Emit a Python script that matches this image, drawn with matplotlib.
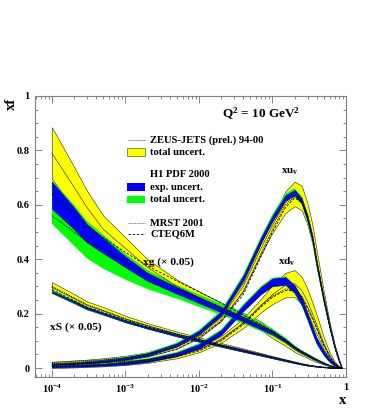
import numpy as np
import matplotlib
matplotlib.use("Agg")
import matplotlib.pyplot as plt
from matplotlib.patches import Rectangle
from matplotlib.ticker import FixedLocator, FixedFormatter, LogLocator, NullFormatter, MultipleLocator

plt.rcParams["font.family"] = ["Liberation Serif", "DejaVu Serif"]
plt.rcParams["font.weight"] = "bold"
plt.rcParams["mathtext.fontset"] = "custom"
plt.rcParams["mathtext.rm"] = "Liberation Serif:bold"
plt.rcParams["mathtext.bf"] = "Liberation Serif:bold"
plt.rcParams["mathtext.it"] = "Liberation Serif:bold:italic"

# x grid shared by all curves
X = [1e-4, 2e-4, 3e-4, 5e-4, 1e-3, 2e-3, 5e-3, 0.01, 0.02, 0.04, 0.07, 0.1,
     0.15, 0.2, 0.25, 0.3, 0.35, 0.4, 0.5, 0.6, 0.7, 0.8, 0.88]

# ---- xu_v
zeus_uv = [0.015, 0.02, 0.023, 0.028, 0.037, 0.05, 0.08, 0.12, 0.185, 0.30, 0.44, 0.525,
           0.61, 0.64, 0.625, 0.565, 0.49, 0.40, 0.26, 0.155, 0.08, 0.03, 0]
zeus_uv_err = [0.008, 0.008, 0.008, 0.008, 0.008, 0.008, 0.009, 0.01, 0.012, 0.015, 0.02, 0.028,
               0.04, 0.045, 0.045, 0.04, 0.035, 0.03, 0.02, 0.012, 0.007, 0.003, 0]
h1_uv = [0.012, 0.016, 0.02, 0.025, 0.035, 0.05, 0.085, 0.13, 0.20, 0.33, 0.47, 0.55,
         0.625, 0.645, 0.615, 0.55, 0.475, 0.38, 0.25, 0.155, 0.08, 0.03, 0]
h1_uv_exp = [0.003, 0.003, 0.0035, 0.004, 0.004, 0.005, 0.006, 0.007, 0.008, 0.009, 0.01, 0.01,
             0.01, 0.01, 0.01, 0.01, 0.01, 0.01, 0.009, 0.007, 0.005, 0.003, 0]
h1_uv_tot = [0.005, 0.005, 0.0055, 0.006, 0.006, 0.007, 0.008, 0.01, 0.012, 0.013, 0.014, 0.015,
             0.016, 0.016, 0.015, 0.014, 0.013, 0.012, 0.011, 0.009, 0.006, 0.004, 0]
cteq_uv = [0.01, 0.014, 0.018, 0.022, 0.03, 0.042, 0.07, 0.11, 0.17, 0.27, 0.41, 0.50,
           0.59, 0.625, 0.61, 0.55, 0.48, 0.39, 0.25, 0.15, 0.078, 0.028, 0]
mrst_uv = [0.02, 0.024, 0.027, 0.03, 0.038, 0.05, 0.078, 0.115, 0.175, 0.28, 0.42, 0.51,
           0.60, 0.63, 0.615, 0.555, 0.485, 0.395, 0.255, 0.152, 0.078, 0.028, 0]

# ---- xd_v
zeus_dv = [0.008, 0.01, 0.012, 0.014, 0.019, 0.027, 0.045, 0.068, 0.105, 0.165, 0.23, 0.27,
           0.305, 0.31, 0.285, 0.245, 0.2, 0.16, 0.09, 0.045, 0.018, 0.005, 0]
zeus_dv_err = [0.008, 0.008, 0.008, 0.008, 0.008, 0.008, 0.009, 0.01, 0.012, 0.018, 0.025, 0.035,
               0.045, 0.05, 0.05, 0.045, 0.04, 0.035, 0.022, 0.012, 0.006, 0.002, 0]
h1_dv = [0.005, 0.007, 0.009, 0.012, 0.018, 0.028, 0.05, 0.08, 0.13, 0.22, 0.285, 0.315,
         0.32, 0.29, 0.245, 0.19, 0.14, 0.10, 0.055, 0.028, 0.012, 0.004, 0]
h1_dv_exp = [0.003, 0.003, 0.0035, 0.004, 0.005, 0.006, 0.007, 0.008, 0.009, 0.011, 0.013, 0.014,
             0.014, 0.014, 0.014, 0.013, 0.012, 0.011, 0.008, 0.006, 0.004, 0.002, 0]
h1_dv_tot = [0.005, 0.005, 0.0055, 0.006, 0.007, 0.008, 0.009, 0.011, 0.012, 0.014, 0.016, 0.017,
             0.017, 0.017, 0.017, 0.016, 0.015, 0.013, 0.01, 0.008, 0.005, 0.003, 0]
cteq_dv = [0.006, 0.008, 0.01, 0.012, 0.017, 0.025, 0.042, 0.063, 0.10, 0.16, 0.225, 0.26,
           0.285, 0.285, 0.26, 0.22, 0.18, 0.145, 0.083, 0.042, 0.017, 0.005, 0]
mrst_dv = [0.015, 0.017, 0.018, 0.02, 0.024, 0.03, 0.046, 0.067, 0.104, 0.165, 0.23, 0.265,
           0.29, 0.29, 0.265, 0.225, 0.185, 0.148, 0.085, 0.043, 0.017, 0.005, 0]

# ---- xg (x 0.05)
zeus_g = [0.79, 0.665, 0.59, 0.51, 0.44, 0.37, 0.30, 0.26, 0.22, 0.185, 0.155, 0.125,
          0.095, 0.07, 0.055, 0.045, 0.035, 0.028, 0.017, 0.009, 0.004, 0.001, 0]
zeus_g_err = [0.095, 0.075, 0.062, 0.05, 0.04, 0.03, 0.025, 0.022, 0.02, 0.018, 0.016, 0.015,
              0.013, 0.011, 0.009, 0.008, 0.007, 0.006, 0.004, 0.002, 0.001, 0.0005, 0]
h1_g = [0.635, 0.55, 0.495, 0.45, 0.39, 0.335, 0.285, 0.25, 0.215, 0.18, 0.15, 0.13,
        0.1, 0.074, 0.058, 0.047, 0.037, 0.029, 0.017, 0.009, 0.004, 0.001, 0]
h1_g_exp = [0.05, 0.04, 0.034, 0.028, 0.02, 0.015, 0.012, 0.011, 0.01, 0.009, 0.008, 0.007,
            0.006, 0.005, 0.0045, 0.004, 0.0035, 0.003, 0.002, 0.001, 0.0005, 0.0002, 0]
h1_g_tot_lo = [0.105, 0.10, 0.092, 0.085, 0.065, 0.045, 0.03, 0.025, 0.02, 0.017, 0.015, 0.013,
               0.01, 0.008, 0.007, 0.006, 0.005, 0.004, 0.003, 0.002, 0.001, 0.0002, 0]
h1_g_tot_hi = [0.055, 0.05, 0.045, 0.04, 0.03, 0.025, 0.02, 0.02, 0.022, 0.02, 0.017, 0.015,
               0.012, 0.009, 0.007, 0.006, 0.005, 0.004, 0.003, 0.002, 0.001, 0.0002, 0]
cteq_g = [0.64, 0.565, 0.52, 0.48, 0.425, 0.375, 0.32, 0.28, 0.24, 0.195, 0.16, 0.137,
          0.105, 0.077, 0.06, 0.048, 0.038, 0.03, 0.018, 0.009, 0.004, 0.001, 0]
mrst_g = [0.56, 0.50, 0.465, 0.435, 0.39, 0.345, 0.295, 0.258, 0.222, 0.185, 0.152, 0.132,
          0.1, 0.074, 0.058, 0.046, 0.037, 0.029, 0.017, 0.009, 0.004, 0.001, 0]

# ---- xS (x 0.05)
zeus_s = [0.296, 0.255, 0.23, 0.21, 0.18, 0.155, 0.125, 0.105, 0.085, 0.066, 0.05, 0.04,
          0.029, 0.021, 0.015, 0.011, 0.008, 0.006, 0.003, 0.0015, 0.0005, 0.0001, 0]
zeus_s_err = [0.02, 0.017, 0.015, 0.014, 0.012, 0.01, 0.009, 0.008, 0.007, 0.006, 0.005, 0.004,
              0.003, 0.0025, 0.002, 0.002, 0.0015, 0.001, 0.0005, 0.0003, 0.0001, 0, 0]
h1_s = [0.28, 0.243, 0.22, 0.2, 0.172, 0.148, 0.12, 0.10, 0.082, 0.063, 0.048, 0.038,
        0.027, 0.02, 0.014, 0.01, 0.0075, 0.0055, 0.0028, 0.0014, 0.0005, 0.0001, 0]
h1_s_exp = [0.003, 0.003, 0.003, 0.003, 0.003, 0.003, 0.003, 0.003, 0.003, 0.003, 0.002, 0.002,
            0.002, 0.002, 0.0015, 0.001, 0.001, 0.001, 0.0005, 0.0003, 0.0001, 0, 0]
h1_s_tot = [0.007, 0.006, 0.0055, 0.005, 0.005, 0.005, 0.005, 0.005, 0.004, 0.004, 0.003, 0.003,
            0.003, 0.0025, 0.002, 0.0015, 0.0012, 0.001, 0.0006, 0.0004, 0.0002, 0, 0]
cteq_s = [0.288, 0.248, 0.224, 0.205, 0.176, 0.152, 0.123, 0.103, 0.083, 0.064, 0.049, 0.039,
          0.028, 0.02, 0.0145, 0.0105, 0.0078, 0.0057, 0.0029, 0.0014, 0.0005, 0.0001, 0]
mrst_s = [0.30, 0.258, 0.233, 0.212, 0.181, 0.156, 0.126, 0.106, 0.086, 0.067, 0.051, 0.041,
          0.03, 0.022, 0.016, 0.0115, 0.0085, 0.0062, 0.0031, 0.0015, 0.0005, 0.0001, 0]

YELLOW = "#ffff00"
GREEN = "#00ff00"
BLUE = "#0000ff"

pdfs = [
    dict(zeus=zeus_g, zeus_err=zeus_g_err, h1=h1_g, exp=h1_g_exp,
         tot_lo=h1_g_tot_lo, tot_hi=h1_g_tot_hi, cteq=cteq_g, mrst=mrst_g),
    dict(zeus=zeus_s, zeus_err=zeus_s_err, h1=h1_s, exp=h1_s_exp,
         tot_lo=h1_s_tot, tot_hi=h1_s_tot, cteq=cteq_s, mrst=mrst_s),
    dict(zeus=zeus_dv, zeus_err=zeus_dv_err, h1=h1_dv, exp=h1_dv_exp,
         tot_lo=h1_dv_tot, tot_hi=h1_dv_tot, cteq=cteq_dv, mrst=mrst_dv),
    dict(zeus=zeus_uv, zeus_err=zeus_uv_err, h1=h1_uv, exp=h1_uv_exp,
         tot_lo=h1_uv_tot, tot_hi=h1_uv_tot, cteq=cteq_uv, mrst=mrst_uv),
]

fig = plt.figure(figsize=(3.82, 4.09), dpi=100)
ax = fig.add_axes([0.0916, 0.0782, 0.8142, 0.6871])
x = np.array(X)

# layer by layer so the H1 bands sit on top of the ZEUS ones
for p in pdfs:
    c = np.array(p["zeus"]); e = np.array(p["zeus_err"])
    ax.fill_between(x, c - e, c + e, facecolor=YELLOW, edgecolor="0.15", lw=0.4, zorder=2)
for p in pdfs:
    c = np.array(p["h1"])
    ax.fill_between(x, c - np.array(p["tot_lo"]), c + np.array(p["tot_hi"]),
                    facecolor=GREEN, edgecolor="none", zorder=3)
for p in pdfs:
    c = np.array(p["h1"]); e = np.array(p["exp"])
    ax.fill_between(x, c - e, c + e, facecolor=BLUE, edgecolor="#000060", lw=0.3, zorder=4)
for p in pdfs:
    ax.plot(x, p["zeus"], color="0.25", lw=0.5, zorder=5)
    ax.plot(x, p["mrst"], color="k", lw=0.7, ls=(0, (1, 1)), zorder=6)
    ax.plot(x, p["cteq"], color="k", lw=0.6, ls=(0, (3, 2)), zorder=6)

ax.set_xscale("log")
ax.set_xlim(10 ** -4.23, 1)
ax.set_ylim(-0.033, 1.0)

ax.xaxis.set_major_locator(FixedLocator([1e-4, 1e-3, 1e-2, 1e-1, 1]))
ax.xaxis.set_major_formatter(FixedFormatter(["$10^{-4}$", "$10^{-3}$", "$10^{-2}$", "$10^{-1}$", "1"]))
ax.xaxis.set_minor_locator(LogLocator(base=10, subs=np.arange(2, 10), numticks=20))
ax.xaxis.set_minor_formatter(NullFormatter())
ax.yaxis.set_major_locator(FixedLocator([0, 0.2, 0.4, 0.6, 0.8, 1.0]))
ax.yaxis.set_major_formatter(FixedFormatter(["0", "0.2", "0.4", "0.6", "0.8", "1"]))
ax.yaxis.set_minor_locator(MultipleLocator(0.05))
ax.tick_params(which="both", direction="in", top=True, right=True, color="0.45", width=0.6,
               labelsize=7.5, pad=4)
ax.tick_params(which="major", length=5)
ax.tick_params(which="minor", length=2.5)
for s in ax.spines.values():
    s.set_color("0.5")
    s.set_linewidth(0.8)
for lab in ax.get_xticklabels() + ax.get_yticklabels():
    lab.set_fontweight("bold")

# legend drawn by hand in axes coordinates
tr = ax.transAxes
ax.plot([0.299, 0.354], [0.843, 0.843], color="0.6", lw=0.6, transform=tr)
ax.add_patch(Rectangle((0.296, 0.786), 0.058, 0.029, facecolor=YELLOW, edgecolor="0.2",
                       lw=0.4, transform=tr))
ax.add_patch(Rectangle((0.296, 0.662), 0.058, 0.028, facecolor=BLUE, edgecolor="none", transform=tr))
ax.add_patch(Rectangle((0.296, 0.619), 0.058, 0.025, facecolor=GREEN, edgecolor="none", transform=tr))
ax.plot([0.299, 0.354], [0.548, 0.548], color="0.3", lw=0.6, ls=(0, (1, 1)), transform=tr)
ax.plot([0.299, 0.354], [0.509, 0.509], color="k", lw=0.6, ls=(0, (3, 2)), transform=tr)

fs = 7.6
legend_rows = [
    (0.843, "ZEUS-JETS (prel.) 94-00"),
    (0.800, "total uncert."),
    (0.719, "H1 PDF 2000"),
    (0.676, "exp. uncert."),
    (0.631, "total uncert."),
    (0.548, "MRST 2001"),
    (0.509, "CTEQ6M"),
]
for yy, txt in legend_rows:
    ax.text(0.370, yy, txt, transform=tr, fontsize=fs, fontweight="bold", va="center", ha="left")

ax.text(0.726, 0.938, "Q$^2$ = 10 GeV$^2$", transform=tr, fontsize=9.5, fontweight="bold",
        ha="center", va="center")
ax.text(0.173, 0.72, "xu$_\\mathrm{v}$", fontsize=8, fontweight="bold", ha="center", va="center")
ax.text(0.157, 0.39, "xd$_\\mathrm{v}$", fontsize=8, fontweight="bold", ha="center", va="center")
ax.text(1.73e-3, 0.39, "xg (× 0.05)", fontsize=8.2, fontweight="bold", ha="left", va="center")
ax.text(9.4e-5, 0.151, "xS (× 0.05)", fontsize=8.2, fontweight="bold", ha="left", va="center")

fig.text(0.03, 0.745, "xf", rotation=90, fontsize=10.5, fontweight="bold", ha="center", va="center")
fig.text(0.898, 0.02, "x", fontsize=10.5, fontweight="bold", ha="center", va="center")

fig.savefig("out.png", dpi=100)
